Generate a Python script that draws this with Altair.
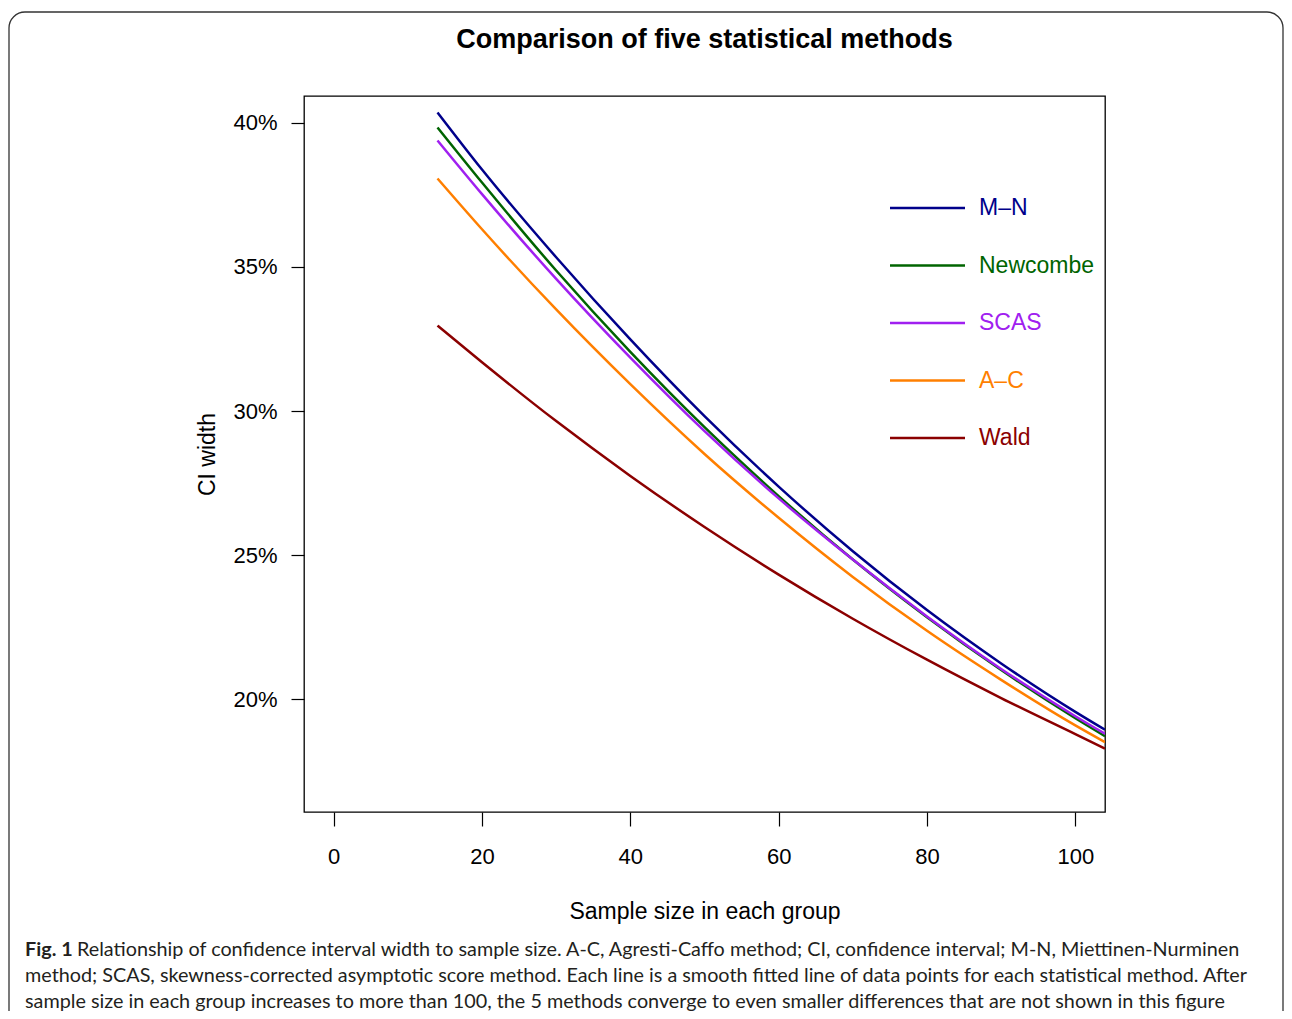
import altair as alt
import pandas as pd

# ---------------- data ----------------
methods = ["M–N", "Newcombe", "SCAS", "A–C", "Wald"]
colors = ["#00008B", "#006400", "#A020F0", "#FF7F00", "#8B0000"]

sample_size = [14, 20, 30, 40, 50, 60, 70, 80, 90, 100, 104]
mn_width = [40.35, 38.37, 35.33, 32.48, 29.82, 27.38, 25.14, 23.10, 21.25, 19.57, 18.95]
newcombe_width = [39.83, 37.92, 34.87, 32.05, 29.44, 27.05, 24.85, 22.85, 21.02, 19.35, 18.73]
scas_width = [39.38, 37.52, 34.58, 31.85, 29.30, 26.97, 24.85, 22.88, 21.06, 19.42, 18.81]
ac_width = [38.06, 36.30, 33.52, 30.93, 28.51, 26.30, 24.25, 22.38, 20.68, 19.10, 18.52]
wald_width = [32.96, 31.69, 29.65, 27.75, 25.98, 24.33, 22.80, 21.38, 20.05, 18.80, 18.30]

x_ticks = [0, 20, 40, 60, 80, 100]
y_ticks = [20, 25, 30, 35, 40]

title_text = "Comparison of five statistical methods"
x_title = "Sample size in each group"
y_title = "CI width"
caption_bold = "Fig. 1"
caption_lines = [
    "Relationship of confidence interval width to sample size. A-C, Agresti-Caffo method; CI, confidence interval; M-N, Miettinen-Nurminen",
    "method; SCAS, skewness-corrected asymptotic score method. Each line is a smooth fitted line of data points for each statistical method. After",
    "sample size in each group increases to more than 100, the 5 methods converge to even smaller differences that are not shown in this figure",
]

series = [mn_width, newcombe_width, scas_width, ac_width, wald_width]
rows = []
for m, vals in zip(methods, series):
    for n, v in zip(sample_size, vals):
        rows.append({"method": m, "n": n, "width": v})
df = pd.DataFrame(rows)
leg_df = pd.DataFrame({"method": methods, "idx": list(range(len(methods)))})

FONT = "Liberation Sans"
color_scale = alt.Scale(domain=methods, range=colors)

# ---------------- main lines ----------------
lines = alt.Chart(df).mark_line(strokeWidth=2.5, clip=True, interpolate="monotone").encode(
    x=alt.X("n:Q",
            scale=alt.Scale(domain=[-4, 104], nice=False, zero=False),
            axis=alt.Axis(values=x_ticks, tickSize=14, labelPadding=20, labelFlush=False,
                          title=x_title, titlePadding=33)),
    y=alt.Y("width:Q",
            scale=alt.Scale(domain=[16.1, 40.92], nice=False, zero=False),
            axis=alt.Axis(values=y_ticks, labelExpr="datum.value + '%'", tickSize=13,
                          labelPadding=14, title=y_title, titlePadding=13)),
    color=alt.Color("method:N", scale=color_scale, legend=None),
)

# ---------------- legend (drawn inside plot) ----------------
leg_y = alt.Y("idx:Q", scale=alt.Scale(domain=[0, 4], range=[112, 342], zero=False, nice=False), axis=None)
leg_rule = alt.Chart(leg_df).mark_rule(strokeWidth=2.5).encode(
    x=alt.value(586), x2=alt.value(661), y=leg_y,
    color=alt.Color("method:N", scale=color_scale, legend=None),
)
leg_text = alt.Chart(leg_df).mark_text(align="left", baseline="middle", fontSize=23, font=FONT).encode(
    x=alt.value(675), y=leg_y, text="method:N",
    color=alt.Color("method:N", scale=color_scale, legend=None),
)

# ---------------- title, figure frame and caption ----------------
one = pd.DataFrame({"a": [0]})
title = alt.Chart(pd.DataFrame({"t": [title_text]})).mark_text(
    align="center", baseline="middle", font=FONT, fontSize=27, fontWeight="bold", color="black"
).encode(text="t:N", x=alt.value(400.5), y=alt.value(-56))

border = alt.Chart(one).mark_rect(filled=False, fill="transparent", stroke="#333333",
                                  strokeWidth=1.3, cornerRadius=16).encode(
    x=alt.value(-295), x2=alt.value(979), y=alt.value(-84), y2=alt.value(940)
)

cap_font = "Lato"
cap_size = 19.8
cap_color = "#231F20"
cap_bold = alt.Chart(pd.DataFrame({"t": [caption_bold]})).mark_text(
    align="left", baseline="middle", font=cap_font, fontSize=cap_size, fontWeight="bold", color=cap_color
).encode(text="t:N", x=alt.value(-279), y=alt.value(854))
cap0 = alt.Chart(pd.DataFrame({"t": [caption_lines[0]]})).mark_text(
    align="left", baseline="middle", font=cap_font, fontSize=cap_size, color=cap_color
).encode(text="t:N", x=alt.value(-227), y=alt.value(854))
cap1 = alt.Chart(pd.DataFrame({"t": [caption_lines[1]]})).mark_text(
    align="left", baseline="middle", font=cap_font, fontSize=cap_size, color=cap_color
).encode(text="t:N", x=alt.value(-279), y=alt.value(880))
cap2 = alt.Chart(pd.DataFrame({"t": [caption_lines[2]]})).mark_text(
    align="left", baseline="middle", font=cap_font, fontSize=cap_size, color=cap_color
).encode(text="t:N", x=alt.value(-279), y=alt.value(906))

chart = alt.layer(border, title, lines, leg_rule, leg_text, cap_bold, cap0, cap1, cap2).resolve_scale(
    y="independent"
).properties(
    width=801,
    height=716,
    padding={"left": 296, "top": 88, "right": 179, "bottom": 199},
    autosize=alt.AutoSizeParams(type="none"),
).configure(font=FONT).configure_view(
    stroke="black", strokeWidth=1.3
).configure_axis(
    domain=False, grid=False, tickColor="black", tickWidth=1.2,
    labelColor="black", titleColor="black", labelFont=FONT, titleFont=FONT,
    labelFontSize=22, titleFontSize=23, titleFontWeight="normal",
)

chart.save("out.html", embed_options={"renderer": "svg", "actions": False})
